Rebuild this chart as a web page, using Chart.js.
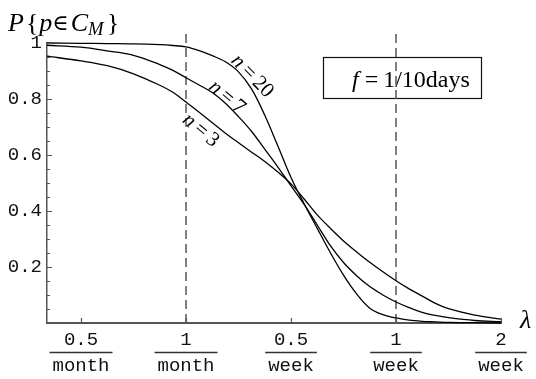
<!DOCTYPE html>
<html>
<head>
<meta charset="utf-8">
<title>P{p in C_M} against lambda</title>
<script src="https://cdn.jsdelivr.net/npm/chart.js"></script>
<style>
html, body { margin: 0; padding: 0; background: #ffffff; }
canvas { display: block; }
</style>
</head>
<body>
<canvas id="plot" width="536" height="379"></canvas>
<script>
// lambda position in tick steps: 0 = 0.5/month, 1 = 1/month, 2 = 0.5/week, 3 = 1/week, 4 = 2/week
const lambdaPos = [-0.324, 0, 0.25, 0.5, 0.75, 0.875, 1, 1.125, 1.25, 1.375, 1.5, 1.625, 1.75, 1.875, 2, 2.125, 2.25, 2.375, 2.5, 2.625, 2.75, 2.875, 3, 3.125, 3.25, 3.375, 3.5, 3.75, 4];
const p20 = [1.000, 0.999, 0.998, 0.997, 0.994, 0.991, 0.986, 0.973, 0.955, 0.933, 0.897, 0.835, 0.742, 0.632, 0.520, 0.426, 0.338, 0.251, 0.171, 0.104, 0.053, 0.030, 0.018, 0.010, 0.006, 0.004, 0.002, 0.001, 0.000];
const p7  = [0.992, 0.985, 0.972, 0.956, 0.923, 0.902, 0.876, 0.850, 0.823, 0.785, 0.737, 0.684, 0.621, 0.557, 0.490, 0.424, 0.350, 0.276, 0.216, 0.169, 0.130, 0.100, 0.075, 0.055, 0.038, 0.027, 0.019, 0.009, 0.005];
const p3  = [0.953, 0.936, 0.919, 0.890, 0.849, 0.824, 0.789, 0.753, 0.715, 0.678, 0.644, 0.610, 0.577, 0.539, 0.497, 0.443, 0.386, 0.338, 0.293, 0.254, 0.217, 0.183, 0.151, 0.122, 0.096, 0.070, 0.051, 0.028, 0.014];

const tickNum = ['0.5', '1', '0.5', '1', '2'];
const tickDen = ['month', 'month', 'week', 'week', 'week'];
const yLabels = [0.2, 0.4, 0.6, 0.8, 1];
const markedLambda = [1, 3];   // 1/month and 1/week
const curveNames = ['20', '7', '3'];

const MONO = '"Liberation Mono", "Courier New", monospace';
const SERIF = '"Liberation Serif", "Times New Roman", serif';

function pts(ys) {
	return lambdaPos.map((x, i) => ({x: x, y: ys[i]}));
}

// draws a run of text pieces, each with its own style
function drawParts(ctx, parts, x, y, size) {
	let cx = x;
	for (const p of parts) {
		const s = size * (p.s || 1);
		ctx.font = (p.it ? 'italic ' : '') + s + 'px ' + (p.f || SERIF);
		ctx.fillText(p.t, cx, y + (p.dy || 0));
		cx += ctx.measureText(p.t).width + (p.gap || 0);
	}
	return cx - x;
}
function partsWidth(ctx, parts, size) {
	let w = 0;
	for (const p of parts) {
		ctx.font = (p.it ? 'italic ' : '') + size * (p.s || 1) + 'px ' + (p.f || SERIF);
		w += ctx.measureText(p.t).width + (p.gap || 0);
	}
	return w;
}

const annotate = {
	id: 'annotate',
	beforeDatasetsDraw(chart) {
		const ctx = chart.ctx;
		ctx.save();
		// parameter box
		ctx.strokeStyle = '#111';
		ctx.lineWidth = 1.2;
		ctx.strokeRect(323.5, 57.5, 158, 41);
		ctx.fillStyle = '#000';
		ctx.textBaseline = 'alphabetic';
		drawParts(ctx, [
			{t: 'f', it: true, gap: 6},
			{t: '=', gap: 5},
			{t: '1/10days'}
		], 352, 87, 24);
		ctx.restore();
	},
	afterDraw(chart) {
		const ctx = chart.ctx;
		const xs = chart.scales.x, ys = chart.scales.y;
		const area = chart.chartArea;
		ctx.save();

		// tick marks point into the plot
		ctx.strokeStyle = '#555';
		ctx.lineWidth = 1.2;
		ctx.beginPath();
		for (let i = 1; i <= 20; i++) {
			const py = Math.round(ys.getPixelForValue(i / 20)) + 0.5;
			const len = i % 4 === 0 ? 5 : 3;
			ctx.moveTo(area.left, py);
			ctx.lineTo(area.left + len, py);
		}
		tickNum.forEach((_, i) => {
			const px = Math.round(xs.getPixelForValue(i)) + 0.5;
			ctx.moveTo(px, area.bottom);
			ctx.lineTo(px, area.bottom - 5);
		});
		ctx.stroke();

		// fraction bars under the numerators
		ctx.font = '19px ' + MONO;
		ctx.strokeStyle = '#333';
		ctx.lineWidth = 1.5;
		ctx.beginPath();
		tickNum.forEach((n, i) => {
			const w = Math.max(ctx.measureText(n).width, ctx.measureText(tickDen[i]).width) + 6;
			const px = xs.getPixelForValue(i);
			const by = area.bottom + 29.5;
			ctx.moveTo(px - w / 2, by);
			ctx.lineTo(px + w / 2, by);
		});
		ctx.stroke();

		// axis titles
		ctx.fillStyle = '#000';
		ctx.textBaseline = 'alphabetic';
		drawParts(ctx, [
			{t: 'P', it: true, gap: 2},
			{t: '{', gap: 1},
			{t: 'p', it: true},
			{t: '\u2208', s: 0.85, dy: -1, gap: 2, f: '"DejaVu Serif", serif'},
			{t: 'C', it: true},
			{t: 'M', it: true, s: 0.72, dy: 4, gap: 3},
			{t: '}'}
		], 8, 31, 26);
		ctx.font = 'italic 26px ' + SERIF;
		ctx.fillText('\u03bb', 520, 328);

		// curve labels, placed in data coordinates
		const spots = [[1.64, 0.885, 46], [1.40, 0.81, 40], [1.15, 0.692, 40]];
		curveNames.forEach((n, i) => {
			const [u, v, ang] = spots[i];
			const parts = [{t: 'n', it: true, gap: 4}, {t: '=', gap: 4}, {t: n}];
			const w = partsWidth(ctx, parts, 21);
			ctx.save();
			ctx.translate(xs.getPixelForValue(u), ys.getPixelForValue(v));
			ctx.rotate(ang * Math.PI / 180);
			drawParts(ctx, parts, -w / 2, 7, 21);
			ctx.restore();
		});
		ctx.restore();
	}
};

const curveStyle = {
	borderColor: '#000',
	borderWidth: 1.3,
	pointRadius: 0,
	fill: false,
	tension: 0.35,
	clip: false
};

const markLines = markedLambda.map(m => ({
	data: [{x: m, y: 0}, {x: m, y: 1.036}],
	borderColor: '#555',
	borderWidth: 1.5,
	borderDash: [9, 5],
	pointRadius: 0,
	fill: false,
	clip: false
}));

new Chart(document.getElementById('plot'), {
	type: 'line',
	data: {
		datasets: [
			Object.assign({label: 'n = 20', data: pts(p20)}, curveStyle),
			Object.assign({label: 'n = 7', data: pts(p7)}, curveStyle),
			Object.assign({label: 'n = 3', data: pts(p3)}, curveStyle)
		].concat(markLines)
	},
	options: {
		responsive: false,
		animation: false,
		layout: {padding: {top: 43, right: 35, left: 0, bottom: 0}},
		plugins: {legend: {display: false}, tooltip: {enabled: false}},
		scales: {
			x: {
				type: 'linear',
				min: -0.324,
				max: 4,
				grid: {display: false, drawTicks: false, tickLength: 0},
				border: {display: true, color: '#555', width: 2},
				afterBuildTicks: s => { s.ticks = tickNum.map((_, i) => ({value: i})); },
				afterFit: s => { s.height = 56; },
				ticks: {
					autoSkip: false,
					maxRotation: 0,
					padding: 4,
					color: '#111',
					font: {family: MONO, size: 19, lineHeight: 1.37},
					callback: (v, i) => [tickNum[i], tickDen[i]]
				}
			},
			y: {
				type: 'linear',
				min: 0,
				max: 1,
				grid: {display: false, drawTicks: false, tickLength: 0},
				border: {display: true, color: '#555', width: 1.5},
				afterBuildTicks: s => { s.ticks = yLabels.map(v => ({value: v})); },
				afterFit: s => { s.width = 47; },
				ticks: {
					autoSkip: false,
					padding: 5,
					color: '#111',
					font: {family: MONO, size: 19},
					callback: v => String(Math.round(v * 10) / 10)
				}
			}
		}
	},
	plugins: [annotate]
});
</script>
</body>
</html>
